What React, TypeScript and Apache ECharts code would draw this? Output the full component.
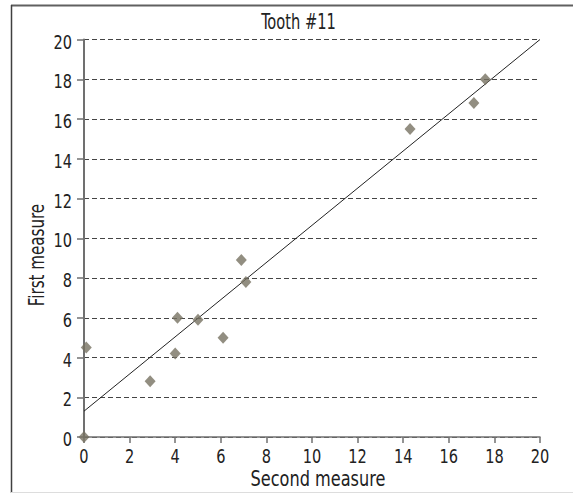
import React, { useEffect, useRef } from "react";
import * as echarts from "echarts";

const secondMeasure = [0, 0.1, 2.9, 4.0, 4.1, 5.0, 6.1, 6.9, 7.1, 14.3, 17.1, 17.6];
const firstMeasure = [0, 4.5, 2.8, 4.2, 6.0, 5.9, 5.0, 8.9, 7.8, 15.5, 16.8, 18.0];
const trendX = [0, 20];
const trendY = [1.3, 20];
const xTicks = [0, 2, 4, 6, 8, 10, 12, 14, 16, 18, 20];
const yTicks = [0, 2, 4, 6, 8, 10, 12, 14, 16, 18, 20];
const titleText = "Tooth #11";
const xName = "Second measure";
const yName = "First measure";

const FONT = '"Liberation Sans Narrow", "DejaVu Sans Condensed", "Liberation Sans", sans-serif';

function label(text: string, x: number, y: number, sx: number, size: number, align = "center", rot = 0) {
  return {
    type: "text",
    x,
    y,
    rotation: rot,
    scaleX: sx,
    scaleY: 1,
    style: {
      text,
      fontFamily: FONT,
      fontSize: size,
      fill: "#222",
      align,
      verticalAlign: "middle",
      textAlign: align,
      textVerticalAlign: "middle",
    },
    z: 10,
  };
}

export default function App() {
  const ref = useRef<HTMLDivElement>(null);
  useEffect(() => {
    if (!ref.current) return;
    const chart = echarts.init(ref.current, null, { renderer: "svg" });
    const axisColor = "#707070";
    chart.setOption({
      animation: false,
      backgroundColor: "#ffffff",
      grid: { left: 84, right: 33, top: 39.5, bottom: 56, containLabel: false },
      xAxis: {
        type: "value",
        min: 0,
        max: 20,
        interval: 2,
        axisLine: { show: true, lineStyle: { color: axisColor, width: 1.5 } },
        axisTick: { show: true, length: 6, lineStyle: { color: axisColor, width: 1.5 } },
        axisLabel: { show: false },
        splitLine: { show: false },
      },
      yAxis: {
        type: "value",
        min: 0,
        max: 20,
        interval: 2,
        axisLine: { show: true, lineStyle: { color: axisColor, width: 2 } },
        axisTick: { show: true, length: 7, lineStyle: { color: axisColor, width: 1.5 } },
        axisLabel: { show: false },
        splitLine: { show: true, lineStyle: { color: "#444", width: 1, type: [5, 3] } },
      },
      series: [
        {
          type: "line",
          data: trendX.map((x, i) => [x, trendY[i]]),
          symbol: "none",
          lineStyle: { color: "#222", width: 1 },
          z: 2,
        },
        {
          type: "scatter",
          data: secondMeasure.map((x, i) => [x, firstMeasure[i]]),
          symbol: "diamond",
          symbolSize: [11, 12],
          itemStyle: { color: "#777261" },
          clip: false,
          z: 3,
        },
      ],
    });

    const tickTexts: any[] = [];
    xTicks.forEach((v) => {
      const p = chart.convertToPixel({ gridIndex: 0 }, [v, 0]) as number[];
      tickTexts.push(label(String(v), p[0], p[1] + 18.5, 0.81, 20, "center"));
    });
    yTicks.forEach((v) => {
      const p = chart.convertToPixel({ gridIndex: 0 }, [0, v]) as number[];
      tickTexts.push(label(String(v), p[0] - 12, p[1] + 2, 0.81, 20, "right"));
    });

    chart.setOption({
      graphic: [
        { type: "line", shape: { x1: 11, y1: 5.5, x2: 573, y2: 5.5 }, style: { stroke: "#606060", lineWidth: 2 } },
        { type: "line", shape: { x1: 11.5, y1: 5, x2: 11.5, y2: 493 }, style: { stroke: "#404040", lineWidth: 1.5 } },
        { type: "line", shape: { x1: 11, y1: 492.5, x2: 573, y2: 492.5 }, style: { stroke: "#dddddd", lineWidth: 1 } },
        label(titleText, 298.5, 21.5, 0.776, 21),
        label(xName, 318, 479.5, 0.855, 21),
        label(yName, 36, 255, 0.8, 21, "center", Math.PI / 2),
        ...tickTexts,
      ],
    });
    return () => chart.dispose();
  }, []);
  return (
    <div
      ref={ref}
      style={{ position: "fixed", left: 0, top: 0, width: 573, height: 493 }}
    />
  );
}
